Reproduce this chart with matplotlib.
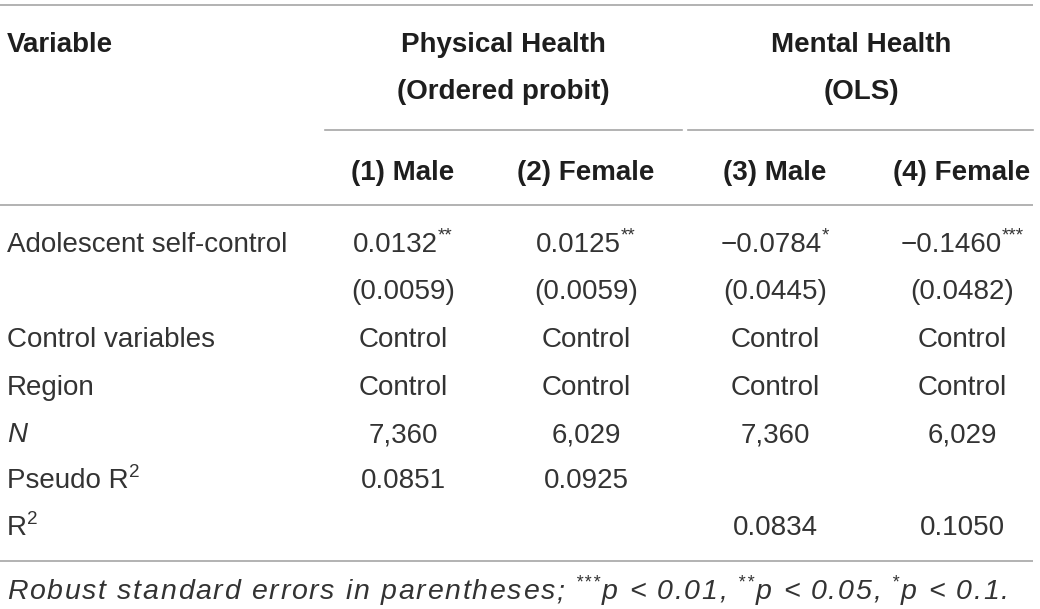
import matplotlib
matplotlib.use("Agg")
import matplotlib.pyplot as plt

# table content
group_headers = ["Physical Health\n(Ordered probit)", "Mental Health\n(OLS)"]
col_headers = ["(1) Male", "(2) Female", "(3) Male", "(4) Female"]
row_labels = ["Adolescent self-control", "", "Control variables", "Region",
              "N", "Pseudo R", "R"]
coef = ["0.0132", "0.0125", "\u22120.0784", "\u22120.1460"]
stars = ["**", "**", "*", "***"]
se = ["(0.0059)", "(0.0059)", "(0.0445)", "(0.0482)"]
controls = ["Control", "Control", "Control", "Control"]
region = ["Control", "Control", "Control", "Control"]
n_obs = ["7,360", "6,029", "7,360", "6,029"]
pseudo_r2 = ["0.0851", "0.0925", "", ""]
r2 = ["", "", "0.0834", "0.1050"]
note = [("Robust standard errors in parentheses; ", False), ("***", True),
        ("p < 0.01, ", False), ("**", True), ("p < 0.05, ", False),
        ("*", True), ("p < 0.1.", False)]

FONT = "Liberation Sans"
TXT = "#333333"
HDR = "#1e1e1e"
LINE = "#a6a6a6"

fig = plt.figure(figsize=(10.4, 6.09), dpi=100)
ax = fig.add_axes([0, 0, 1, 1])
ax.set_xlim(0, 1040)
ax.set_ylim(609, 0)
ax.axis("off")
renderer = fig.canvas.get_renderer()
_cache = {}


def width(s, size, style="normal", weight="normal"):
    # measure with guard characters so spaces count
    key = (s, size, style, weight)
    if key in _cache:
        return _cache[key]

    def w(t):
        tt = ax.text(0, 0, t, fontsize=size, family=FONT, style=style, weight=weight)
        bb = tt.get_window_extent(renderer)
        tt.remove()
        return bb.width
    _cache[key] = w("x" + s + "x") - w("xx")
    return _cache[key]


def put(x, y, s, size, ha="left", style="normal", weight="normal", color=TXT):
    # y is the visual centre of capital letters
    ax.text(x, y + size * 0.5, s, fontsize=size, family=FONT, style=style,
            weight=weight, color=color, ha=ha, va="baseline")


def runs_text(x, y, runs, size, ha="center", style="normal", weight="normal",
              color=TXT, track=0.0, base=None):
    base = size if base is None else base
    sup_size = base * 0.68
    pieces = []
    for t, s in runs:
        sz = sup_size if s else size
        if track:
            for ch in t:
                pieces.append((ch, s, width(ch, sz, style, weight) + track))
        else:
            pieces.append((t, s, width(t, sz, style, weight)))
    total = sum(p[2] for p in pieces)
    if ha == "center":
        x0 = x - total / 2
    elif ha == "left":
        x0 = x
    else:
        x0 = x - total
    for t, s, w in pieces:
        if s:
            put(x0, y - base * 0.4, t, sup_size, style=style, weight=weight, color=color)
        else:
            put(x0, y, t, size, style=style, weight=weight, color=color)
        x0 += w


col_x = [403, 586, 775, 962]
group_x = [503, 861]
label_x = 7
row_y = [242, 289, 337, 385, 432, 478, 525]
SIZE = 20

# rules
for yy in (5, 205, 561):
    ax.plot([0, 1033], [yy, yy], color=LINE, lw=1.2, solid_capstyle="butt")
ax.plot([325, 682], [130, 130], color=LINE, lw=1.2)
ax.plot([688, 1033], [130, 130], color=LINE, lw=1.2)

# headers
put(label_x, 42, "Variable", SIZE, weight="bold", color=HDR)
for gx, g in zip(group_x, group_headers):
    top, bottom = g.split("\n")
    put(gx, 42, top, SIZE, ha="center", weight="bold", color=HDR)
    put(gx, 89, bottom, SIZE, ha="center", weight="bold", color=HDR)
for cx, h in zip(col_x, col_headers):
    put(cx, 170, h, SIZE, ha="center", weight="bold", color=HDR)

# row labels
for yy, lab in zip(row_y, row_labels):
    if lab == "N":
        put(label_x, yy, lab, SIZE, style="italic")
    elif lab.endswith("R"):
        runs_text(label_x, yy, [(lab, False), ("2", True)], SIZE, ha="left")
    elif lab:
        put(label_x, yy, lab, SIZE)

# body cells
for i, cx in enumerate(col_x):
    runs_text(cx, row_y[0], [(coef[i], False), (stars[i], True)], SIZE)
    for yy, vals in zip(row_y[1:], [se, controls, region, n_obs, pseudo_r2, r2]):
        if vals[i]:
            put(cx, yy, vals[i], SIZE, ha="center")

# footnote
runs_text(label_x, 589, note, 20.5, ha="left", style="italic", track=1.7, base=19)

fig.savefig("out.png", dpi=100)
